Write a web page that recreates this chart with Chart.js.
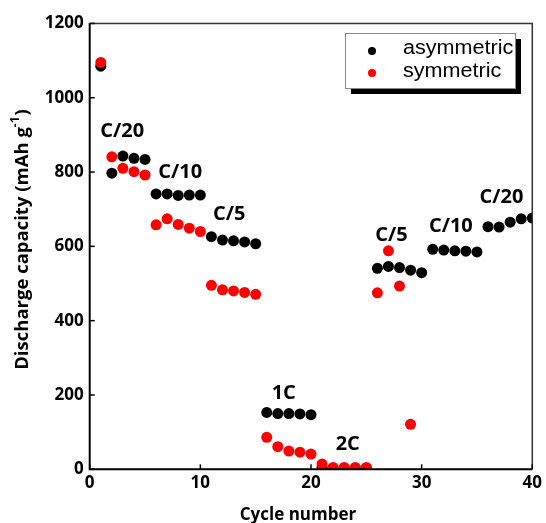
<!DOCTYPE html>
<html>
<head>
<meta charset="utf-8">
<script src="https://cdn.jsdelivr.net/npm/chart.js@4/dist/chart.umd.min.js"></script>
<style>
html,body{margin:0;padding:0;background:#fff;}
#wrap{width:546px;height:523px;position:relative;}
</style>
</head>
<body>
<div id="wrap"><canvas id="c" width="546" height="523"></canvas></div>
<script>
// ---- data ----
const cycles = [1,2,3,4,5,6,7,8,9,10,11,12,13,14,15,16,17,18,19,20,21,22,23,24,25,26,27,28,29,30,31,32,33,34,35,36,37,38,39,40];
const asymmetric = [1085,797,843,837,834,741,741,737,738,738,626,617,615,612,607,153,150,150,149,147,5,3,3,3,3,541,546,543,536,529,592,590,588,587,585,653,652,665,674,676];
const symmetric = [1095,841,810,801,792,658,674,659,649,640,495,483,480,476,471,86,61,49,46,41,14,5,5,5,5,475,588,493,121,null,null,null,null,null,null,null,null,null,null,null];
const seriesNames = ['asymmetric','symmetric'];
const xTicks = [0,10,20,30,40];
const yTicks = [0,200,400,600,800,1000,1200];
const rateLabels = ['C/20','C/10','C/5','1C','2C','C/5','C/10','C/20'];
const rateLabelX = [2.94,8.18,12.62,17.54,23.32,27.27,32.64,37.21];
const rateLabelY = [909,798,685,205,68,631,655,733];
const xTitle = 'Cycle number';
const yTitleMain = 'Discharge capacity (mAh g';
const yTitleSup = '-1';
const yTitleEnd = ')';

function toPoints(ys){ const out=[]; ys.forEach((v,i)=>{ if(v!==null) out.push({x:cycles[i],y:v}); }); return out; }

const boldFont = '"Open Sans", sans-serif';

const decor = {
  id:'decor',
  afterDatasetsDraw(chart){
    const ctx = chart.ctx, a = chart.chartArea, xs = chart.scales.x, ys = chart.scales.y;
    ctx.save();
    // frame top/right
    ctx.strokeStyle = '#333'; ctx.lineWidth = 1.5;
    ctx.beginPath(); ctx.moveTo(a.left, a.top); ctx.lineTo(a.right, a.top); ctx.lineTo(a.right, a.bottom); ctx.stroke();
    // left and bottom axes
    ctx.strokeStyle = '#000'; ctx.lineWidth = 2;
    ctx.beginPath(); ctx.moveTo(a.left, a.top-0.5); ctx.lineTo(a.left, a.bottom); ctx.lineTo(a.right, a.bottom); ctx.stroke();
    // inward ticks
    ctx.lineWidth = 1.5;
    yTicks.forEach(v=>{ const p = ys.getPixelForValue(v); ctx.beginPath(); ctx.moveTo(a.left, p); ctx.lineTo(a.left+5, p); ctx.stroke(); });
    xTicks.forEach(v=>{ const p = xs.getPixelForValue(v); ctx.beginPath(); ctx.moveTo(p, a.bottom); ctx.lineTo(p, a.bottom-5); ctx.stroke(); });
    // rate labels
    ctx.fillStyle = '#000';
    ctx.font = 'bold 20px ' + boldFont;
    ctx.textAlign = 'center'; ctx.textBaseline = 'middle';
    rateLabels.forEach((t,i)=>{ ctx.fillText(t, xs.getPixelForValue(rateLabelX[i]), ys.getPixelForValue(rateLabelY[i])); });
    // axis titles
    ctx.font = 'bold 17px ' + boldFont;
    ctx.textBaseline = 'alphabetic';
    ctx.fillText(xTitle, 298, 520);
    ctx.save();
    ctx.translate(28, 240);
    ctx.rotate(-Math.PI/2);
    const f1 = 'bold 18.5px ' + boldFont, f2 = 'bold 12px ' + boldFont;
    ctx.font = f1; const w1 = ctx.measureText(yTitleMain).width, w3 = ctx.measureText(yTitleEnd).width;
    ctx.font = f2; const w2 = ctx.measureText(yTitleSup).width;
    let x0 = -(w1+w2+w3)/2;
    ctx.textAlign = 'left';
    ctx.font = f1; ctx.fillText(yTitleMain, x0, 0);
    ctx.font = f2; ctx.fillText(yTitleSup, x0+w1, -9);
    ctx.font = f1; ctx.fillText(yTitleEnd, x0+w1+w2+1, 0);
    ctx.restore();
    // legend
    const lx = 345, ly = 33, lw = 170, lh = 55;
    ctx.fillStyle = '#000'; ctx.fillRect(lx+6, ly+6, lw, lh);
    ctx.fillStyle = '#fff'; ctx.fillRect(lx, ly, lw, lh);
    ctx.strokeStyle = '#888'; ctx.lineWidth = 1; ctx.strokeRect(lx+0.5, ly+0.5, lw, lh);
    const cols = ['#000','#ff0000'];
    const rowsY = [51, 73];
    const baseY = [54, 77];
    ctx.font = '20px "Liberation Sans", Arial, sans-serif';
    ctx.textAlign = 'left'; ctx.textBaseline = 'alphabetic';
    seriesNames.forEach((n,i)=>{
      ctx.fillStyle = cols[i];
      ctx.beginPath(); ctx.arc(372, rowsY[i], 4, 0, Math.PI*2); ctx.fill();
      ctx.fillStyle = '#000';
      ctx.save(); ctx.translate(403, baseY[i]); ctx.scale(1.08,1); ctx.fillText(n, 0, 0); ctx.restore();
    });
    ctx.restore();
  }
};

function build(){
  new Chart(document.getElementById('c'), {
    type:'scatter',
    data:{ datasets:[
      {label:seriesNames[0], data:toPoints(asymmetric), backgroundColor:'#000', borderColor:'#000', pointRadius:5.5, pointHoverRadius:5.5, borderWidth:0, order:1, clip:0},
      {label:seriesNames[1], data:toPoints(symmetric), backgroundColor:'#ff0000', borderColor:'#ff0000', pointRadius:5.5, pointHoverRadius:5.5, borderWidth:0, order:0, clip:0}
    ]},
    options:{
      responsive:false, animation:false, events:[],
      layout:{padding:{top:23.4, right:10, left:0, bottom:0}},
      plugins:{legend:{display:false}, tooltip:{enabled:false}},
      scales:{
        x:{ type:'linear', min:0, max:40,
            afterBuildTicks(s){ s.ticks = xTicks.map(v=>({value:v})); },
            afterFit(s){ s.height = 523-469.3; },
            grid:{display:false, drawTicks:false}, border:{display:false},
            ticks:{color:'#000', font:{family:'"Open Sans"', weight:'bold', size:17}, padding:4, maxRotation:0, autoSkip:false, callback:v=>String(v)}
        },
        y:{ type:'linear', min:0, max:1200,
            afterBuildTicks(s){ s.ticks = yTicks.map(v=>({value:v})); },
            afterFit(s){ s.width = 89.7; },
            grid:{display:false, drawTicks:false}, border:{display:false},
            ticks:{color:'#000', font:{family:'"Open Sans"', weight:'bold', size:17}, padding:6, autoSkip:false, callback:v=>String(v)}
        }
      }
    },
    plugins:[decor]
  });
}
Promise.all([
  document.fonts.load('bold 17px "Open Sans"'),
  document.fonts.load('bold 20px "Open Sans"'),
  document.fonts.load('20px "Liberation Sans"')
]).then(build, build);
</script>
</body>
</html>
